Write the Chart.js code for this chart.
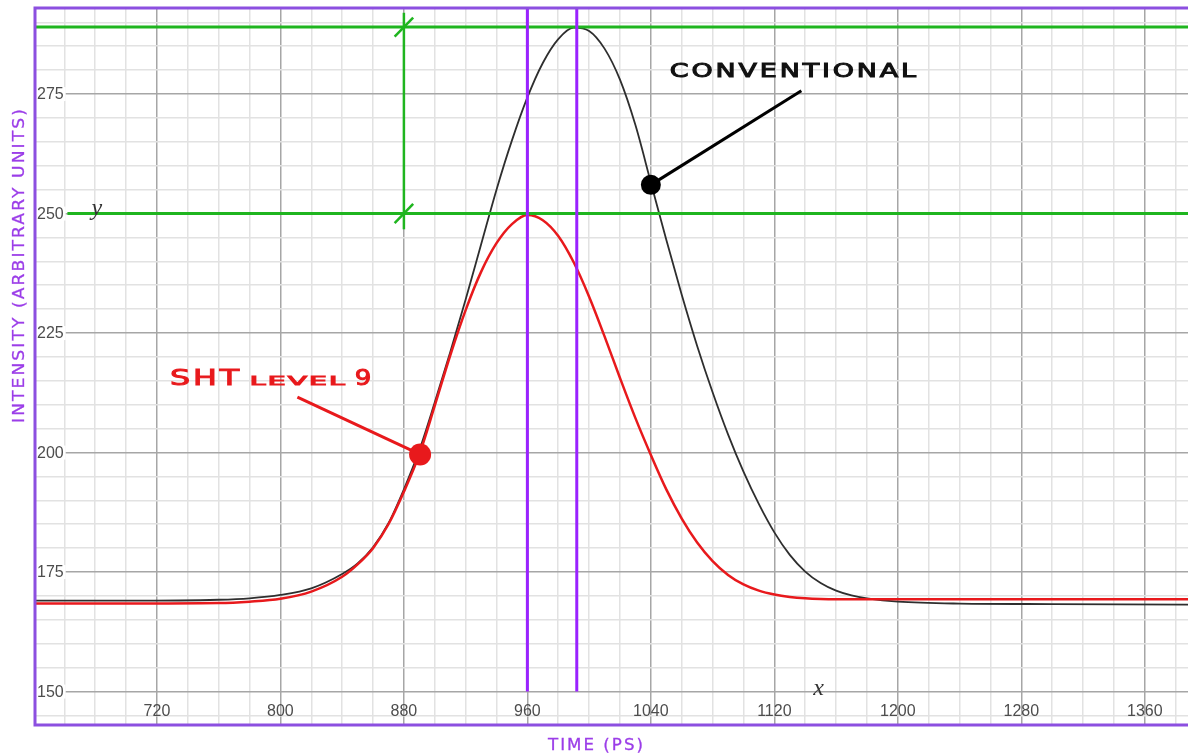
<!DOCTYPE html>
<html>
<head>
<meta charset="utf-8">
<title>Intensity vs time</title>
<script src="https://cdn.jsdelivr.net/npm/chart.js@4.4.1/dist/chart.umd.min.js"></script>
<style>
  html, body { margin: 0; padding: 0; background: #fff; }
  canvas { display: block; }
</style>
</head>
<body>
<canvas id="chart" width="1188" height="755"></canvas>
<script>
// time samples (ps) shared by both traces
const times = [640, 700, 760, 780, 800, 820, 840, 850, 860, 870, 880, 890, 900, 910, 920, 930, 940,
    950, 960, 970, 980, 990, 1000, 1010, 1020, 1030, 1040, 1050, 1060, 1070, 1080, 1090, 1100,
    1110, 1120, 1130, 1140, 1150, 1160, 1170, 1180, 1200, 1240, 1300, 1388];

const conventional = [169.0, 169.0, 169.2, 169.5, 170.2, 171.6, 174.6, 176.8, 180.2, 185.2, 192.3, 200.5,
    210.5, 221.0, 232.0, 243.5, 255.0, 265.3, 274.3, 281.5, 286.5, 288.9, 288.2, 284.5, 278.0, 268.5,
    256.5, 244.5, 233.0, 222.3, 212.6, 203.8, 196.0, 189.2, 183.3, 178.6, 175.1, 172.7, 171.1, 170.1,
    169.5, 168.8, 168.4, 168.3, 168.2];

const shtLevel9 = [168.4, 168.4, 168.5, 168.8, 169.4, 170.9, 174.0, 176.6, 180.0, 185.0, 191.8, 199.6,
    209.8, 220.3, 229.8, 237.8, 243.8, 247.8, 249.7, 248.6, 245.3, 239.8, 232.6, 224.3, 215.6, 207.2,
    199.5, 192.3, 186.2, 181.2, 177.3, 174.4, 172.4, 171.1, 170.3, 169.8, 169.5, 169.35, 169.3, 169.3,
    169.3, 169.3, 169.3, 169.3, 169.3];

const xTickLabels = [720, 800, 880, 960, 1040, 1120, 1200, 1280, 1360];
const yTickLabels = [150, 175, 200, 225, 250, 275];

// construction lines
const peakLevels = [289, 250];
const peakTimes = [960, 992];
const levelGapTime = 880;
const conventionalMarker = [1040, 256];
const shtMarker = [890.5, 199.6];

const PURPLE = '#9a22ff';
const FRAME = '#8c4fe0';
const TITLE = '#9b3de8';
const GREEN = '#1fb51f';
const RED = '#e8191c';
const DARK = '#2e2e2e';

function range(from, to, step) {
    const out = [];
    for (let v = from; v <= to; v += step) out.push({ value: v });
    return out;
}

function seg(data, color, width, extra) {
    return {
        type: 'line',
        data,
        borderColor: color,
        backgroundColor: color,
        borderWidth: width,
        pointRadius: 0,
        tension: 0,
        fill: false,
        ...extra,
    };
}

// wide lettering: stretch a regular face to the measured width, optional outline for weight
function fitText(ctx, text, x, y, size, width, color, align, heavy) {
    ctx.save();
    ctx.font = size + 'px "DejaVu Sans", sans-serif';
    ctx.letterSpacing = Math.round(size * 0.1) + 'px';
    const w = ctx.measureText(text).width;
    ctx.translate(x, y);
    ctx.scale(width / w, 1);
    ctx.fillStyle = color;
    ctx.textAlign = align || 'left';
    ctx.textBaseline = 'alphabetic';
    ctx.fillText(text, 0, 0);
    if (heavy) {
        ctx.strokeStyle = color;
        ctx.lineWidth = heavy;
        ctx.strokeText(text, 0, 0);
    }
    ctx.restore();
}

const decor = {
    id: 'decor',
    beforeDatasetsDraw(chart) {
        const { ctx, chartArea, scales: { x, y } } = chart;
        ctx.save();
        ctx.font = '16px "Liberation Sans", Arial, sans-serif';
        ctx.textBaseline = 'middle';
        ctx.textAlign = 'left';
        yTickLabels.forEach(v => {
            const py = y.getPixelForValue(v);
            const w = ctx.measureText(String(v)).width;
            ctx.fillStyle = '#fff';
            ctx.fillRect(chartArea.left + 1, py - 7, w + 3, 14);
            ctx.fillStyle = '#4d4d4d';
            ctx.fillText(String(v), chartArea.left + 2, py + 1);
        });
        ctx.textAlign = 'center';
        xTickLabels.forEach(v => {
            ctx.fillStyle = '#4d4d4d';
            ctx.fillText(String(v), x.getPixelForValue(v), y.getPixelForValue(145.8));
        });
        ctx.restore();
    },
    afterDraw(chart) {
        const { ctx, chartArea, scales: { x, y } } = chart;

        fitText(ctx, 'CONVENTIONAL', x.getPixelForValue(1052.3), y.getPixelForValue(278.5), 19, 249, '#111', 'left', 1);
        fitText(ctx, 'SHT', x.getPixelForValue(728.4), y.getPixelForValue(214.2), 22, 72, RED, 'left', 1);
        fitText(ctx, 'LEVEL', x.getPixelForValue(780.2), y.getPixelForValue(214.2), 13, 97, RED, 'left', 1);
        fitText(ctx, '9', x.getPixelForValue(848.2), y.getPixelForValue(214.2), 22, 19, RED, 'left', 1);

        ctx.save();
        ctx.font = 'italic 24px "Liberation Serif", "Times New Roman", serif';
        ctx.fillStyle = '#333';
        ctx.textAlign = 'center';
        ctx.textBaseline = 'alphabetic';
        ctx.fillText('y', x.getPixelForValue(681), y.getPixelForValue(249.6));
        ctx.fillText('x', x.getPixelForValue(1148.7), y.getPixelForValue(149.2));
        ctx.restore();

        // axis titles
        ctx.save();
        ctx.translate(chartArea.left - 17, chartArea.top + 257);
        ctx.rotate(-Math.PI / 2);
        fitText(ctx, 'INTENSITY (ARBITRARY UNITS)', 0, 6, 16.5, 316, TITLE, 'center', 0.3);
        ctx.restore();
        fitText(ctx, 'TIME (PS)', chartArea.left + 513, chartArea.bottom + 25, 16.5, 97, TITLE, 'left', 0.3);

        // frame
        ctx.save();
        ctx.strokeStyle = FRAME;
        ctx.lineWidth = 3;
        ctx.beginPath();
        ctx.moveTo(chartArea.right, chartArea.top);
        ctx.lineTo(chartArea.left, chartArea.top);
        ctx.lineTo(chartArea.left, chartArea.bottom);
        ctx.lineTo(chartArea.right, chartArea.bottom);
        ctx.stroke();
        ctx.restore();
    },
};

const gridColor = major => c => (c.tick && c.tick.value % major === 0 ? '#a6a6a6' : '#e2e2e2');

const tickT = 6, tickV = 2;

new Chart(document.getElementById('chart'), {
    type: 'line',
    data: {
        datasets: [
            seg([{ x: conventionalMarker[0], y: conventionalMarker[1] }, { x: 1137.5, y: 275.7 }], '#000', 3,
                { pointRadius: [10, 0], pointBorderWidth: 0 }),
            seg([{ x: shtMarker[0], y: shtMarker[1] }, { x: 811, y: 211.6 }], RED, 3,
                { pointRadius: [11, 0], pointBorderWidth: 0 }),
            seg([{ x: peakTimes[0], y: 150 }, { x: peakTimes[0], y: 293 }], PURPLE, 3),
            seg([{ x: peakTimes[1], y: 150 }, { x: peakTimes[1], y: 293 }], PURPLE, 3),
            seg([{ x: 641, y: peakLevels[0] }, { x: 1388, y: peakLevels[0] }], GREEN, 3),
            seg([{ x: 662, y: peakLevels[1] }, { x: 1388, y: peakLevels[1] }], GREEN, 3),
            seg([{ x: levelGapTime, y: 246.7 }, { x: levelGapTime, y: 292 }], GREEN, 2.5),
            seg([{ x: levelGapTime - tickT, y: peakLevels[0] - tickV }, { x: levelGapTime + tickT, y: peakLevels[0] + tickV }], GREEN, 2.5),
            seg([{ x: levelGapTime - tickT, y: peakLevels[1] - tickV }, { x: levelGapTime + tickT, y: peakLevels[1] + tickV }], GREEN, 2.5),
            {
                label: 'SHT level 9',
                data: times.map((t, i) => ({ x: t, y: shtLevel9[i] })),
                borderColor: RED,
                borderWidth: 2.5,
                pointRadius: 0,
                cubicInterpolationMode: 'monotone',
            },
            {
                label: 'Conventional',
                data: times.map((t, i) => ({ x: t, y: conventional[i] })),
                borderColor: DARK,
                borderWidth: 1.8,
                pointRadius: 0,
                cubicInterpolationMode: 'monotone',
            },
        ],
    },
    options: {
        responsive: false,
        animation: false,
        devicePixelRatio: 1,
        layout: { autoPadding: false, padding: { left: 35, top: 8, right: 0, bottom: 30 } },
        plugins: {
            legend: { display: false },
            tooltip: { enabled: false },
        },
        scales: {
            x: {
                type: 'linear',
                min: 641,
                max: 1388,
                afterBuildTicks: s => { s.ticks = range(660, 1380, 20); },
                ticks: { display: false },
                grid: { color: gridColor(80), lineWidth: 1.5, drawTicks: false },
                border: { display: false },
            },
            y: {
                min: 143,
                max: 293,
                afterBuildTicks: s => { s.ticks = range(145, 290, 5); },
                ticks: { display: false },
                grid: { color: gridColor(25), lineWidth: 1.5, drawTicks: false },
                border: { display: false },
            },
        },
    },
    plugins: [decor],
});
</script>
</body>
</html>
